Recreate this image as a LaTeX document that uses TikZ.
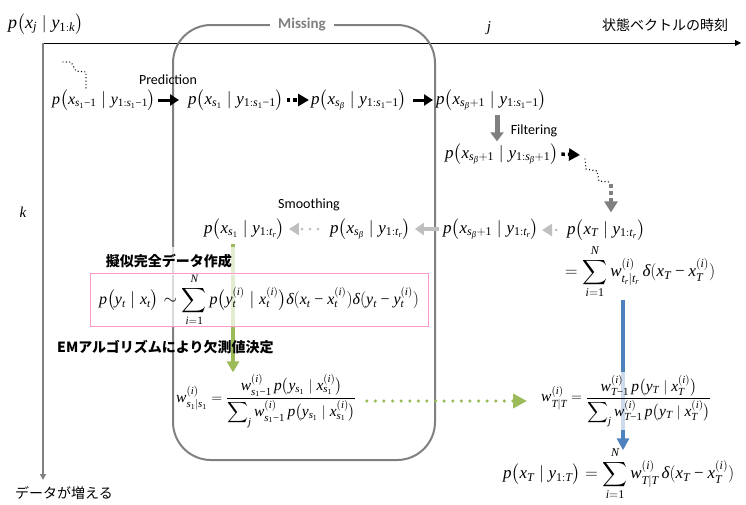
\documentclass[tikz,border=0pt]{standalone}
\usepackage{amsmath}
\usepackage[no-math]{fontspec}
\setmainfont{Liberation Serif}
\newfontfamily\jpfont{Noto Sans CJK JP}
\newfontfamily\labfont{Carlito}
\newfontfamily\mathserif{Liberation Serif}[NFSSFamily=libserif]
\usetikzlibrary{arrows.meta}

% Times-like letters, digits and minus in math
\DeclareSymbolFont{tletters}{TU}{libserif}{m}{it}
\DeclareSymbolFont{troman}{TU}{libserif}{m}{n}
\makeatletter
\count@=`a
\loop
  \Umathcode\count@="7 \symtletters \count@
  \ifnum\count@<`z \advance\count@ by 1 \repeat
\count@=`A
\loop
  \Umathcode\count@="7 \symtletters \count@
  \ifnum\count@<`Z \advance\count@ by 1 \repeat
\count@=`0
\loop
  \Umathcode\count@="7 \symtroman \count@
  \ifnum\count@<`9 \advance\count@ by 1 \repeat
\makeatother
\Umathcode`-="2 \symtroman "2212
\Umathchardef\beta="0 \symtletters "03B2
\Umathchardef\delta="0 \symtletters "03B4
\newcommand{\pdist}[1]{p\bigl(#1\bigr)}

\definecolor{boxgray}{RGB}{128,128,128}
\definecolor{lightgr}{RGB}{191,191,191}
\definecolor{emgreen}{RGB}{155,187,89}
\definecolor{pfblue}{RGB}{79,129,189}
\definecolor{pinkline}{RGB}{255,153,204}

\tikzset{
  fml/.style={inner sep=0pt, font=\fontsize{17}{20}\selectfont},
  wfml/.style={inner sep=0pt, font=\fontsize{15.5}{18}\selectfont},
  lab/.style={inner sep=1pt, font=\labfont\fontsize{14}{16}\selectfont},
  jplab/.style={inner sep=1pt, font=\jpfont\fontsize{14}{16}\selectfont},
  axisline/.style={line width=0.8pt, -{Triangle[length=6pt,width=6pt]}},
  predarrow/.style={black, line width=3pt, -{Triangle[length=9pt,width=11pt]}},
  preddots/.style={black, line width=3.5pt, dash pattern=on 3.5pt off 3pt, -{Triangle[length=11pt,width=12pt]}},
  filtarrow/.style={boxgray, line width=5pt, -{Triangle[length=9pt,width=13pt]}},
  filtdash/.style={boxgray, line width=4.5pt, dash pattern=on 4pt off 3pt, -{Triangle[length=11pt,width=13pt]}},
  smootharrow/.style={lightgr, line width=4pt, -{Triangle[length=9pt,width=12pt]}},
  smoothdots/.style={lightgr, line width=3pt, line cap=round, dash pattern=on 0pt off 8pt, -{Triangle[length=10pt,width=12pt]}},
  stairs/.style={black, line width=1.4pt, line cap=round, dash pattern=on 0pt off 3.4pt},
  emarrow/.style={emgreen, line width=4pt, -{Triangle[length=11pt,width=12pt]}},
  emdots/.style={emgreen, line width=3.5pt, line cap=round, dash pattern=on 0pt off 8.6pt, -{Triangle[length=14pt,width=14pt]}},
  pfarrow/.style={pfblue, line width=4.5pt, -{Triangle[length=12pt,width=12pt]}},
  veil/.style={fill=white, fill opacity=0.72, text opacity=1},
}

\begin{document}
\begin{tikzpicture}[x=1pt,y=-1pt]
\useasboundingbox (0,0) rectangle (746,504);

% axes
\coordinate (origin) at (43,43);
\coordinate (jend) at (741,43);
\coordinate (kend) at (43,480);
\draw[axisline, black] (origin) -- (jend);
\draw[axisline, boxgray, line width=1.4pt] (origin) -- (kend);

\node[fml, font=\fontsize{18}{21}\selectfont, anchor=west] (title) at (8,24) {$\pdist{x_j \mid y_{1:k}}$};
\node[fml, font=\fontsize{15}{18}\selectfont] (jlab) at (489,28) {$j$};
\node[jplab] (jtext) at (665,25) {状態ベクトルの時刻};
\node[fml, font=\fontsize{15}{18}\selectfont] (klab) at (23,212) {$k$};
\node[jplab] (ktext) at (64,493) {データが増える};

% the missing-data interval
\node[draw=boxgray, line width=2pt, rounded corners=38pt, minimum width=262pt,
      minimum height=435pt, inner sep=0pt] (missing) at (304,242.5) {};
\node[fill=white, inner xsep=8pt, inner ysep=1pt, text=boxgray,
      font=\labfont\bfseries\fontsize{15}{17}\selectfont] (misslab) at (302,25) {Missing};

% prediction row
\node[fml, anchor=west, font=\fontsize{16}{19}\selectfont] (pa) at (52,100) {$\pdist{x_{s_1-1} \mid y_{1:s_1-1}}$};
\node[fml, anchor=west] (pb) at (188,100) {$\pdist{x_{s_1} \mid y_{1:s_1-1}}$};
\node[fml, anchor=west] (pc) at (311,100) {$\pdist{x_{s_\beta} \mid y_{1:s_1-1}}$};
\node[fml, anchor=west] (pd) at (436,100) {$\pdist{x_{s_\beta+1} \mid y_{1:s_1-1}}$};
\node[lab] (predlab) at (168,80) {Prediction};

\draw[stairs] (63,62) -- (71,62) -- (76,71) -- (86,72) -- (86,88);
\draw[predarrow, shorten <=2pt, shorten >=9pt] (pa.east) -- (pa.east -| pb.west);
\draw[preddots, shorten <=3pt, shorten >=2pt] (pb.east) -- (pb.east -| pc.west);
\draw[predarrow, shorten <=6pt, shorten >=3pt] (pc.east) -- (pc.east -| pd.west);

% filtering
\node[fml, anchor=west] (pf) at (445,154) {$\pdist{x_{s_\beta+1} \mid y_{1:s_\beta+1}}$};
\node[lab] (filtlab) at (534,131) {Filtering};
\coordinate (fx) at (497,0);
\draw[filtarrow, shorten <=4pt, shorten >=2pt] (pd.south -| fx) -- (pf.north -| fx);

\coordinate (fe) at (580,155);
\coordinate (stairend) at (611,184);
\draw[preddots, shorten <=3pt] (pf.east) -- (fe);
\draw[stairs] (585,159) -- (586,169) -- (597,171) -- (599,181) -- (609,182);

% smoothing row
\node[fml, anchor=west] (sa) at (204,229) {$\pdist{x_{s_1} \mid y_{1:t_r}}$};
\node[fml, anchor=west] (sb) at (330,229) {$\pdist{x_{s_\beta} \mid y_{1:t_r}}$};
\node[fml, anchor=west] (sc) at (443,229) {$\pdist{x_{s_\beta+1} \mid y_{1:t_r}}$};
\node[fml, anchor=west] (sd) at (567,230) {$\pdist{x_T \mid y_{1:t_r}}$};
\node[lab] (smoothlab) at (309,205) {Smoothing};
\node[fml, anchor=west] (se) at (565,272)
  {$\displaystyle =\sum_{i=1}^{N} w^{(i)}_{t_r|t_r}\,\delta(x_T - x^{(i)}_T)$};

\draw[filtdash, shorten >=7pt] (stairend) -- (sd.north -| stairend);
\draw[smoothdots, shorten <=11pt, shorten >=3pt] (sd.west) -- (sd.west -| sc.east);
\draw[smootharrow, shorten <=4pt, shorten >=4pt] (sc.west) -- (sc.west -| sb.east);
\draw[smoothdots, shorten <=12pt, shorten >=4pt] (sb.west) -- (sb.west -| sa.east);

% weights at the end of the missing interval, at T, and the final estimate
\node[wfml, anchor=west] (ws) at (176,401)
  {$\displaystyle w^{(i)}_{s_1|s_1} = \frac{w^{(i)}_{s_1-1}\,\pdist{y_{s_1} \mid x^{(i)}_{s_1}}}{\displaystyle\sum\nolimits_j w^{(i)}_{s_1-1}\,\pdist{y_{s_1} \mid x^{(i)}_{s_1}}}$};
\node[fml, anchor=west] (fin) at (503,474)
  {$\displaystyle \pdist{x_T \mid y_{1:T}} = \sum_{i=1}^{N} w^{(i)}_{T|T}\,\delta(x_T - x^{(i)}_T)$};

% EM arrow and particle-weight arrow
\coordinate (gx) at (233,0);
\coordinate (bx) at (623,0);
\draw[emarrow, shorten <=4pt, shorten >=2pt] (sa.south -| gx) -- (ws.north -| gx);
\draw[pfarrow, shorten <=1pt, shorten >=-3pt] (se.south -| bx) -- (fin.north -| bx);

\node[wfml, anchor=west, veil, inner ysep=3pt, inner xsep=0pt] (wT) at (541,401)
  {$\displaystyle w^{(i)}_{T|T} = \frac{w^{(i)}_{T-1}\,\pdist{y_{T} \mid x^{(i)}_{T}}}{\displaystyle\sum\nolimits_j w^{(i)}_{T-1}\,\pdist{y_{T} \mid x^{(i)}_{T}}}$};
\draw[emdots, shorten <=10pt, shorten >=14pt] (ws.east) -- (ws.east -| wT.west);

% pseudo complete data
\node[jplab, anchor=east, veil, inner xsep=5pt, inner ysep=7pt,
      font=\jpfont\bfseries\fontsize{14}{16}\selectfont] (pseudo) at (237,261) {擬似完全データ作成};
\node[draw=pinkline, line width=1pt, veil, minimum width=338pt, minimum height=51pt,
      inner sep=0pt, font=\fontsize{16}{19}\selectfont] (pink) at (259,300)
  {$\displaystyle \pdist{y_t \mid x_t} \sim \sum_{i=1}^{N} \pdist{y^{(i)}_t \mid x^{(i)}_t}\delta(x_t - x^{(i)}_t)\delta(y_t - y^{(i)}_t)$};
\node[jplab, anchor=west, font=\jpfont\bfseries\fontsize{14}{16}\selectfont] (emlab) at (56,347) {EMアルゴリズムにより欠測値決定};

\end{tikzpicture}
\end{document}
